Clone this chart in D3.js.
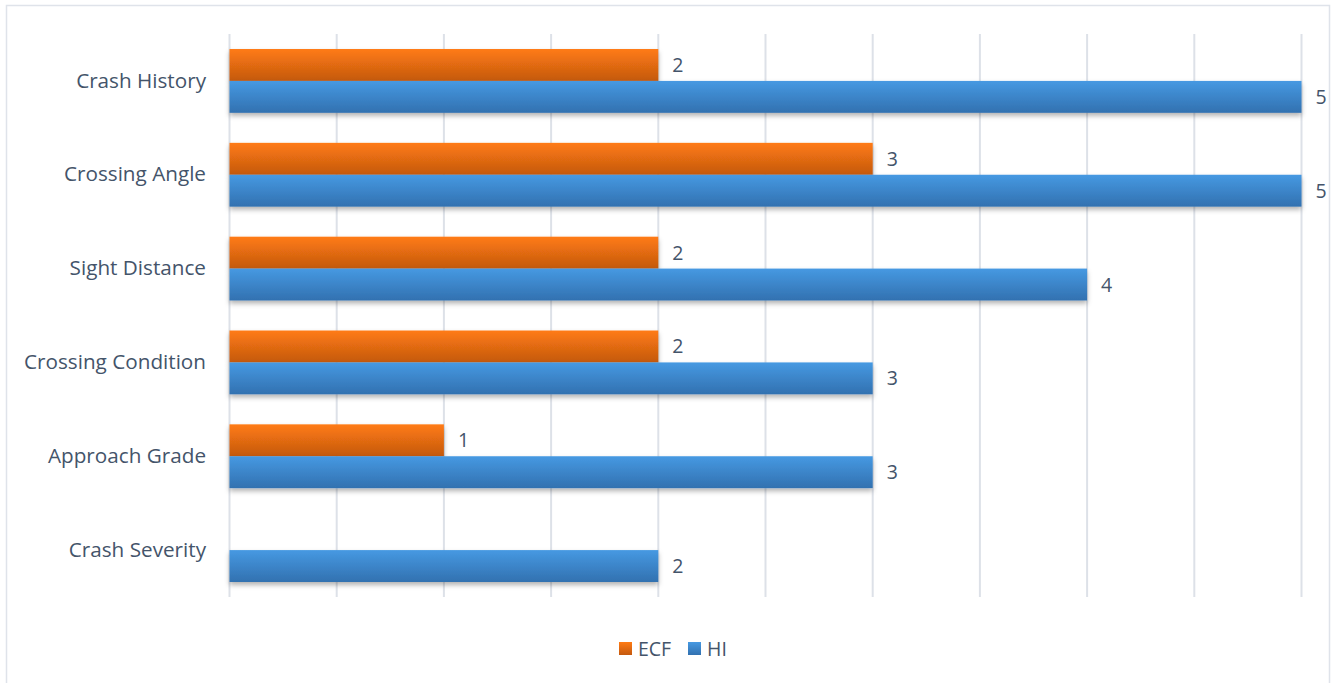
<!DOCTYPE html>
<html><head><meta charset="utf-8">
<script src="https://cdn.jsdelivr.net/npm/d3@7"></script>
<style>body{margin:0;background:#fff}svg{display:block}</style>
</head><body>
<svg id="c" width="1332" height="683"></svg>
<script>
const categories = ["Crash History","Crossing Angle","Sight Distance","Crossing Condition","Approach Grade","Crash Severity"];
const seriesNames = ["ECF","HI"];
const ecfValues = [2,3,2,2,1,null];
const hiValues = [5,5,4,3,3,2];
const xTicks = [0,0.5,1,1.5,2,2.5,3,3.5,4,4.5,5];

const svg = d3.select("#c");
const font = "'Open Sans', 'Liberation Sans', sans-serif";
const textColor = "#44546a";

svg.append("rect").attr("x",6.5).attr("y",5.5).attr("width",1323).attr("height",690)
  .attr("fill","#fff").attr("stroke","#dfe3ea").attr("stroke-width",1.5);

const defs = svg.append("defs");
function grad(id, top, bottom){
  const g = defs.append("linearGradient").attr("id",id).attr("x1",0).attr("y1",0).attr("x2",0).attr("y2",1);
  g.append("stop").attr("offset","0%").attr("stop-color",top);
  g.append("stop").attr("offset","100%").attr("stop-color",bottom);
}
grad("gECF","#ff7b14","#c4590f");
grad("gHI","#4699e2","#3271b0");
const f = defs.append("filter").attr("id","sh").attr("x","-5%").attr("y","-20%").attr("width","110%").attr("height","160%");
f.append("feDropShadow").attr("dx",0).attr("dy",3).attr("stdDeviation",2.5).attr("flood-color","#000").attr("flood-opacity",0.3);

const x = d3.scaleLinear().domain([0,5]).range([229.5,1301.5]);
const y = d3.scaleBand().domain(categories).range([34,597]).paddingInner(0.32).paddingOuter(0.16);
const ySub = d3.scaleBand().domain(seriesNames).range([0,y.bandwidth()]);

svg.append("g").selectAll("line").data(xTicks).join("line")
  .attr("x1",d=>x(d)).attr("x2",d=>x(d)).attr("y1",34).attr("y2",597)
  .attr("stroke","#dde1e8").attr("stroke-width",2);

const yAxis = svg.append("g").attr("transform","translate(229,0)")
  .call(d3.axisLeft(y).tickSize(0).tickPadding(23));
yAxis.select(".domain").remove();
yAxis.selectAll("text").attr("font-family",font).attr("font-size",20.7).attr("fill",textColor);

const series = [
  {name:"ECF", values:ecfValues, fill:"url(#gECF)"},
  {name:"HI", values:hiValues, fill:"url(#gHI)"}
];
series.forEach(s=>{
  const data = categories.map((c,i)=>({c, v:s.values[i]})).filter(d=>d.v!=null);
  const g = svg.append("g");
  g.selectAll("rect").data(data).join("rect")
    .attr("x",x(0)).attr("y",d=>y(d.c)+ySub(s.name))
    .attr("width",d=>x(d.v)-x(0)).attr("height",ySub.bandwidth())
    .attr("fill",s.fill).attr("filter","url(#sh)");
  g.selectAll("text").data(data).join("text")
    .attr("x",d=>x(d.v)+14).attr("y",d=>y(d.c)+ySub(s.name)+ySub.bandwidth()/2)
    .attr("dy","0.36em").attr("font-family",font).attr("font-size",19.5).attr("fill",textColor)
    .text(d=>d.v);
});

const leg = svg.append("g");
const legItems = [{n:"ECF",f:"url(#gECF)",x:619},{n:"HI",f:"url(#gHI)",x:688}];
legItems.forEach(it=>{
  leg.append("rect").attr("x",it.x).attr("y",642).attr("width",13).attr("height",13).attr("fill",it.f);
  leg.append("text").attr("x",it.x+19).attr("y",648.5).attr("dy","0.36em")
    .attr("font-family",font).attr("font-size",19.5).attr("fill",textColor).text(it.n);
});
</script>
</body></html>
